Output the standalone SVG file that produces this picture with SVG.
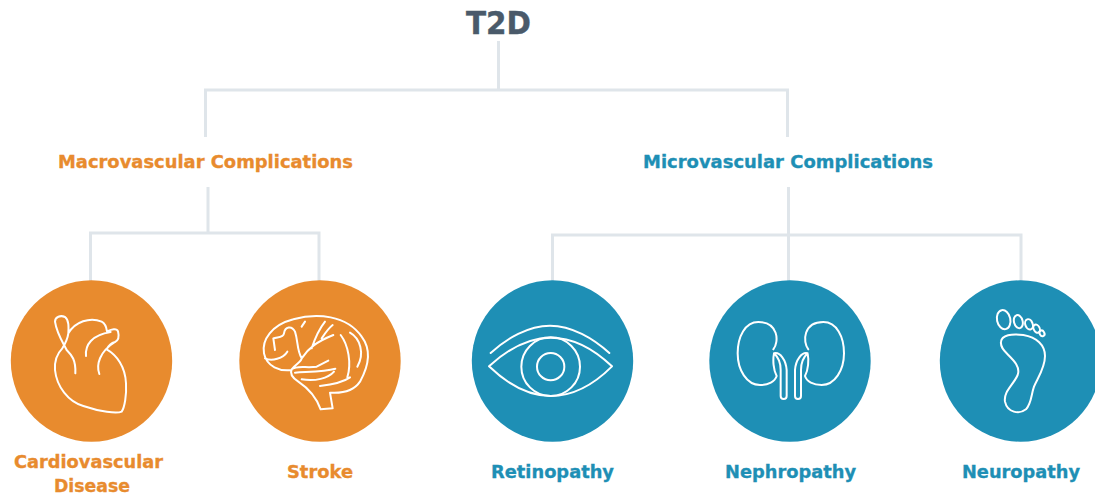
<svg xmlns="http://www.w3.org/2000/svg" width="1095" height="498" viewBox="0 0 1095 498">
<style>
text{font-family:"DejaVu Sans","Liberation Sans",sans-serif;font-weight:700}
.o{fill:#e88b2e;stroke:#e88b2e}.t{fill:#1e8fb5;stroke:#1e8fb5}
circle.o,circle.t{stroke:none}
.lab{font-size:18.500px;stroke-width:.35}
.conn{fill:none;stroke:#dfe5ea;stroke-width:3}
.ic{fill:none;stroke:#fff;stroke-width:6;stroke-linecap:round;stroke-linejoin:round}
</style>
<rect width="1095" height="498" fill="#fff"/>
<g id="connectors" class="conn">
<path d="M498.5 41V90M205.5 137V90H787.5V137"/>
<path d="M208 187V233M90.500 281V233H319V281"/>
<path d="M788.500 187V235M552.500 281V235H1021V281M788.500 235V281"/>
</g>
<g id="root"><text x="466" y="34" font-size="31.500" fill="#4a5a6a" stroke="#4a5a6a" stroke-width=".4" textLength="65" lengthAdjust="spacingAndGlyphs">T2D</text></g>
<g id="macro"><text class="o lab" x="58" y="168" textLength="295" lengthAdjust="spacingAndGlyphs">Macrovascular Complications</text></g>
<g id="micro"><text class="t lab" x="643" y="168" textLength="290" lengthAdjust="spacingAndGlyphs">Microvascular Complications</text></g>
<g id="cardio">
<circle class="o" cx="91.500" cy="361" r="80.700"/>
<g transform="translate(0,270) scale(.33333)"><path class="ic" d="M205 190C225 155 270 140 305 155C315 160 319 170 321 184C335 178 350 174 354 184C358 200 354 212 345 216C330 220 325 228 320 238C350 255 376 290 378 340C380 375 374 412 365 425C350 432 300 425 250 408C205 395 170 350 165 300C163 270 172 250 187 235C195 222 203 205 205 190C206 170 207 150 195 141C182 135 165 140 165 155C170 190 190 220 200 240C215 255 228 270 226 310M258 258C255 225 275 195 332 186M298 312C288 285 298 245 345 216"/></g>
<text class="o lab" x="14" y="468" textLength="149" lengthAdjust="spacingAndGlyphs">Cardiovascular</text>
<text class="o lab" x="54" y="492" textLength="76" lengthAdjust="spacingAndGlyphs">Disease</text>
</g>
<g id="stroke">
<circle class="o" cx="320" cy="361" r="80.700"/>
<g transform="translate(0,270) scale(.33333)"><path class="ic" d="M875 300C840 305 800 290 792 250C785 210 815 165 880 148C950 128 1040 135 1085 200C1115 240 1105 290 1080 335C1060 365 1020 370 990 368L998 415L962 418C950 385 925 355 895 335C880 325 868 312 875 298C890 285 920 295 950 290L985 272M875 298C890 280 905 275 905 265C890 240 895 215 885 185C875 165 855 170 852 190C850 205 830 200 820 205L825 240M795 265C815 275 850 265 862 245M905 265C925 235 950 215 1000 195M935 235C945 205 955 180 975 155M965 205C975 190 985 175 998 165M905 170L915 155M1022 195C1045 225 1055 280 1042 322M1050 188C1080 205 1095 250 1072 290M885 308C930 305 975 305 1006 296M905 328C945 335 985 325 1002 305M960 348C985 345 1025 340 1050 322"/></g>
<text class="o lab" x="287" y="477.500" textLength="66" lengthAdjust="spacingAndGlyphs">Stroke</text>
</g>
<g id="retinopathy">
<circle class="t" cx="552.500" cy="361" r="80.700"/>
<g transform="translate(460,270) scale(.33333)"><path class="ic" d="M92 249C140 205 205 167 270 167C335 167 400 205 448 249M87 289C140 240 205 203 272 203C340 203 405 240 456 289C405 340 340 378 272 378C205 378 140 340 87 289Z"/><circle class="ic" cx="272" cy="290" r="88"/><circle class="ic" cx="272" cy="290" r="41"/></g>
<text class="t lab" x="491" y="477.500" textLength="123" lengthAdjust="spacingAndGlyphs">Retinopathy</text>
</g>
<g id="nephropathy">
<circle class="t" cx="790" cy="361" r="80.700"/>
<g transform="translate(460,270) scale(.33333)"><path class="ic" d="M940 238C958 215 955 156 895 156C855 156 833 200 833 250C833 300 860 345 900 345C925 345 945 335 950 318C940 300 938 270 942 250C960 245 978 270 980 300V378C980 390 962 390 962 378V300C962 280 955 262 942 250"/><path class="ic" d="M1045 238C1027 215 1030 156 1090 156C1130 156 1152 200 1152 250C1152 300 1125 345 1085 345C1060 345 1040 335 1035 318C1045 300 1047 270 1043 250C1025 245 1007 270 1005 300V378C1005 390 1023 390 1023 378V300C1023 280 1030 262 1043 250"/></g>
<text class="t lab" x="725" y="477.500" textLength="131" lengthAdjust="spacingAndGlyphs">Nephropathy</text>
</g>
<g id="neuropathy">
<circle class="t" cx="1020.500" cy="361" r="80.700"/>
<g transform="translate(930,270) scale(.33333)"><path class="ic" d="M213 215C215 195 245 190 280 195C320 202 345 225 345 258C345 295 322 325 312 350C303 375 305 400 288 418C268 434 232 428 225 395C220 365 250 345 263 315C272 290 250 270 232 252C220 240 211 230 213 215Z"/><ellipse class="ic" cx="221" cy="149" rx="20" ry="29" transform="rotate(-12 221 149)"/><ellipse class="ic" cx="265" cy="155" rx="13" ry="20" transform="rotate(-15 265 155)"/><ellipse class="ic" cx="297" cy="163" rx="11" ry="16" transform="rotate(-20 297 163)"/><ellipse class="ic" cx="320" cy="176" rx="9" ry="13" transform="rotate(-25 320 176)"/><ellipse class="ic" cx="336" cy="190" rx="7" ry="9" transform="rotate(-30 336 190)"/></g>
<text class="t lab" x="962" y="477.500" textLength="118" lengthAdjust="spacingAndGlyphs">Neuropathy</text>
</g>
</svg>
